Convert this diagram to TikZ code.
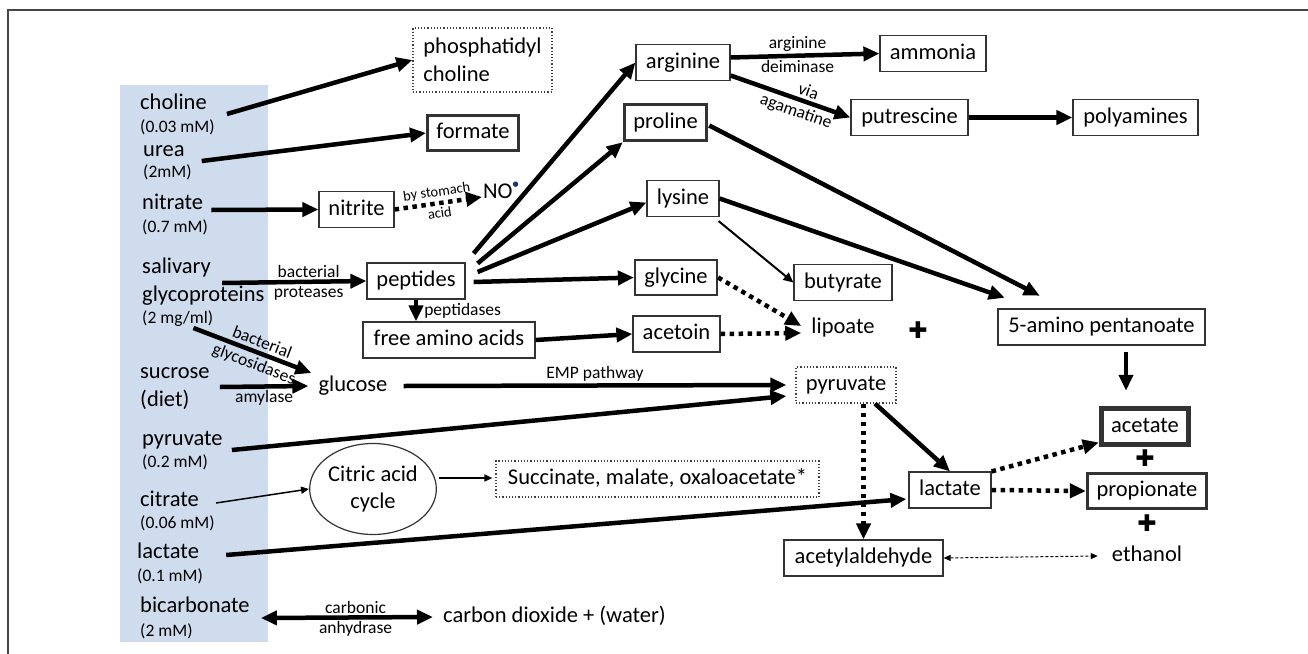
\documentclass[tikz,border=0pt]{standalone}
\usepackage{fontspec}
\setmainfont{Carlito}
\newfontfamily\symfont{DejaVu Sans}
\usepackage{xcolor}
\usetikzlibrary{shapes.geometric,arrows.meta}

\definecolor{bandblue}{RGB}{207,220,238}
\definecolor{framegray}{RGB}{70,70,70}
\definecolor{dotblue}{RGB}{25,55,110}
\newcommand{\bigtxt}{\fontsize{22.5}{27.5}\selectfont}
\newcommand{\smalltxt}{\fontsize{17.5}{20}\selectfont}
\newcommand{\tinytxt}{\fontsize{14.5}{16}\selectfont}

\begin{document}
\begin{tikzpicture}[x=1pt, y=-1pt]
    % Define styles
    \tikzstyle{box} = [rectangle, minimum height=36, text centered, draw=black!80, line width=1.2pt, inner sep=0pt, font=\bigtxt, text height=15.5pt, text depth=4.5pt]
    \tikzstyle{dotbox} = [box, dotted, draw=black!75]
    \tikzstyle{txt} = [inner sep=0pt, font=\bigtxt, text height=15.5pt, text depth=4.5pt]
    \tikzstyle{substrate} = [txt, anchor=west]
    \tikzstyle{amount} = [inner sep=0pt, font=\smalltxt, anchor=west, text height=12.5pt, text depth=3.5pt]
    \tikzstyle{lbl} = [inner sep=2pt, font=\smalltxt]
    \tikzstyle{plussign} = [inner sep=0pt, font=\symfont\fontsize{23}{23}\selectfont]
    \tikzstyle{arrow} = [line width=4.5pt, ->, >={Stealth[inset=0pt, length=16pt, width=14pt]}]
    \tikzstyle{dotarrow} = [arrow, dash pattern=on 4.5pt off 4.5pt]
    \tikzstyle{thinarrow} = [line width=1.5pt, ->, >={Stealth[inset=0pt, length=8pt, width=7pt]}]

    \useasboundingbox (0,0) rectangle (1308,653);
    \fill [bandblue] (120,85) rectangle (268,642);
    \draw [framegray, line width=1.5pt] (8,670) -- (8,10) -- (1320,10);

    % Saliva column
    \node [substrate] (choline) at (140,104) {choline};
    \node [amount] (cholinec) at (140,128) {(0.03 mM)};
    \node [substrate] (urea) at (143,151) {urea};
    \node [amount] (ureac) at (143,173) {(2mM)};
    \node [substrate] (nitrate) at (142,204) {nitrate};
    \node [amount] (nitratec) at (142,228) {(0.7 mM)};
    \node [substrate] (salivary) at (142,268) {salivary};
    \node [substrate] (glyco) at (142,296) {glycoproteins};
    \node [amount] (glycoc) at (142,319) {(2 mg/ml)};
    \node [substrate] (sucrose) at (140,373) {sucrose};
    \node [substrate] (diet) at (140,401) {(diet)};
    \node [substrate] (pyrsrc) at (142,440) {pyruvate};
    \node [amount] (pyrsrcc) at (142,463) {(0.2 mM)};
    \node [substrate] (citrate) at (140,501) {citrate};
    \node [amount] (citratec) at (140,524) {(0.06 mM)};
    \node [substrate] (lactsrc) at (137,553) {lactate};
    \node [amount] (lactsrcc) at (137,577) {(0.1 mM)};
    \node [substrate] (bicarb) at (140,607) {bicarbonate};
    \node [amount] (bicarbc) at (140,632) {(2 mM)};

    % Products, left half
    \node [dotbox, minimum width=139, minimum height=64, align=left, text height=, text depth=] (phos) at (482.5,60) {phosphatidyl\\choline};
    \node [box, line width=3pt, minimum width=91, minimum height=35] (formate) at (473,133) {formate};
    \node [box, minimum width=75] (nitrite) at (356.5,209.5) {nitrite};
    \node [txt, anchor=west] (NO) at (483,193) {NO\raisebox{12pt}{\textcolor{dotblue}{\symfont\fontsize{7}{7}\selectfont ●}}};
    \node [box, minimum width=98] (peptides) at (416,281) {peptides};
    \node [box, minimum width=172] (freeaa) at (449,340) {free amino acids};
    \node [txt] (glucose) at (353,386) {glucose};
    \node [ellipse, draw=black!80, line width=1.2pt, minimum width=106, minimum height=91, inner sep=0pt, align=center, font=\bigtxt] (citric) at (373,489) {Citric acid\\cycle};
    \node [dotbox, minimum width=323] (succ) at (657.5,479) {Succinate, malate, oxaloacetate*};
    \node [txt] (co2) at (554.5,617) {carbon dioxide + (water)};

    % Amino acids
    \node [box, minimum width=94] (arginine) at (683,62.5) {arginine};
    \node [box, line width=3.5pt, minimum width=82, minimum height=36] (proline) at (665.5,122.5) {proline};
    \node [box, minimum width=72] (lysine) at (683,198.5) {lysine};
    \node [box, line width=2.2pt, minimum width=82, minimum height=35] (glycine) at (676,277.5) {glycine};
    \node [box, minimum width=87] (acetoin) at (676.5,334) {acetoin};

    % Products, right half
    \node [box, minimum width=106] (ammonia) at (933,53.5) {ammonia};
    \node [box, minimum width=117] (putrescine) at (909.5,117.5) {putrescine};
    \node [box, minimum width=125] (polyamines) at (1135.5,117.5) {polyamines};
    \node [box, minimum width=98] (butyrate) at (843,282.5) {butyrate};
    \node [txt] (lipoate) at (843,328) {lipoate};
    \node [plussign] (plusa) at (918,330) {✚};
    \node [box, line width=2.5pt, minimum width=207] (amino5) at (1101.5,327) {5-amino pentanoate};
    \node [dotbox, minimum width=100] (pyrbox) at (846,385) {pyruvate};
    \node [box, line width=5.5pt, minimum width=87] (acetate) at (1145,426.5) {acetate};
    \node [plussign] (plusb) at (1145,458) {✚};
    \node [box, line width=3.2pt, minimum width=119, minimum height=35] (propionate) at (1147,491) {propionate};
    \node [plussign] (plusc) at (1147,523) {✚};
    \node [txt] (ethanol) at (1147,556) {ethanol};
    \node [box, minimum width=82] (lactbox) at (950,490) {lactate};
    \node [box, minimum width=159] (acetald) at (863.5,558) {acetylaldehyde};

    % Arrows out of the saliva column
    \draw [arrow] ([shift={(20,10)}]choline.east) -- (phos.west);
    \draw [arrow] ([shift={(17,10)}]urea.east) -- (formate.west);
    \draw [arrow] ([shift={(8,6)}]nitrate.east) -- (nitrite.west);
    \draw [dotarrow] (nitrite.east) -- ([shift={(-1,4)}]NO.west)
        node [midway, above, sloped, font=\tinytxt, inner sep=2.5pt] {by stomach}
        node [midway, below, sloped, font=\tinytxt, inner sep=2.5pt] {acid};
    \draw [arrow] ([shift={(11,15)}]salivary.east) -- (peptides.west)
        node [lbl, pos=0.6, above] {bacterial}
        node [lbl, pos=0.6, below] {proteases};
    \draw [arrow] ([shift={(-20,9)}]glycoc.east) -- ([shift={(-7,-13)}]glucose.west)
        node [lbl, pos=0.55, above, sloped, inner sep=3pt] {bacterial}
        node [lbl, pos=0.55, below, sloped, inner sep=3pt] {glycosidases};
    \draw [arrow] ([shift={(10,14)}]sucrose.east) -- ([shift={(-10,0)}]glucose.west)
        node [lbl, midway, below] {amylase};
    \draw [arrow] ([shift={(16,0)}]glucose.east) -- ([shift={(-9,0)}]pyrbox.west)
        node [lbl, midway, above] {EMP pathway};
    \draw [arrow] ([shift={(9,10)}]pyrsrc.east) -- ([shift={(-9,11)}]pyrbox.west);
    \draw [thinarrow] ([shift={(17,2)}]citrate.east) -- (citric.west);
    \draw [thinarrow] ([shift={(2,-11)}]citric.east) -- ([shift={(-3,-1)}]succ.west);
    \draw [arrow] ([shift={(27,2)}]lactsrc.east) -- ([shift={(-2,9)}]lactbox.west);
    \draw [arrow, <->] ([shift={(11,11)}]bicarb.east) -- ([shift={(-10,0)}]co2.west)
        node [lbl, pos=0.55, above] {carbonic}
        node [lbl, pos=0.55, below] {anhydrase};

    % Arrows out of peptides
    \draw [arrow] ([shift={(8,-9)}]peptides.north east) -- (arginine.west);
    \draw [arrow] ([shift={(12,1)}]peptides.north east) -- (proline.south west);
    \draw [arrow] ([shift={(12,-9)}]peptides.east) -- ([shift={(0,4)}]lysine.west);
    \draw [arrow] ([shift={(8,1)}]peptides.east) -- (glycine.west);
    \draw [arrow] (peptides.south) -- (peptides.south |- freeaa.north)
        node [lbl, midway, right, xshift=4pt] {peptidases};
    \draw [arrow] (freeaa.east) -- (acetoin.west);

    % Amino acid breakdown
    \draw [arrow] ([shift={(0,-5)}]arginine.east) -- (ammonia.west)
        node [lbl, pos=0.45, above] {arginine}
        node [lbl, pos=0.45, below] {deiminase};
    \draw [arrow] ([shift={(0,13)}]arginine.east) -- (putrescine.west)
        node [lbl, pos=0.62, above, sloped, inner sep=3pt] {via}
        node [lbl, pos=0.58, below, sloped, inner sep=3pt] {agamatine};
    \draw [arrow] (putrescine.east) -- (polyamines.west);
    \draw [arrow] ([shift={(1,3)}]proline.east) -- ([shift={(43,-12)}]amino5.north west);
    \draw [arrow] (lysine.east) -- ([shift={(8,-10)}]amino5.north west);
    \draw [thinarrow, line width=2pt, >={Stealth[inset=0pt, length=10pt, width=9pt]}] ([shift={(-1,4)}]lysine.south east) -- (butyrate.west);
    \draw [dotarrow] (glycine.east) -- ([shift={(-10,-2)}]lipoate.west);
    \draw [dotarrow] (acetoin.east) -- ([shift={(-10,5)}]lipoate.west);
    \draw [arrow] ([shift={(24.5,6)}]amino5.south) -- ([shift={(-19,-15)}]acetate.north);

    % Pyruvate fermentation
    \draw [arrow] ([shift={(29,0)}]pyrbox.south) -- (lactbox.north);
    \draw [dotarrow] (acetald.north |- pyrbox.south) -- (acetald.north);
    \draw [dotarrow] (lactbox.north east) -- ([shift={(0,16)}]acetate.west);
    \draw [dotarrow] (lactbox.east) -- (propionate.west);
    \draw [line width=1pt, dash pattern=on 3pt off 2pt, <->, >={Stealth[inset=0pt, length=7pt, width=6pt]}] (acetald.east) -- ([shift={(-14,0)}]ethanol.west);
\end{tikzpicture}
\end{document}
